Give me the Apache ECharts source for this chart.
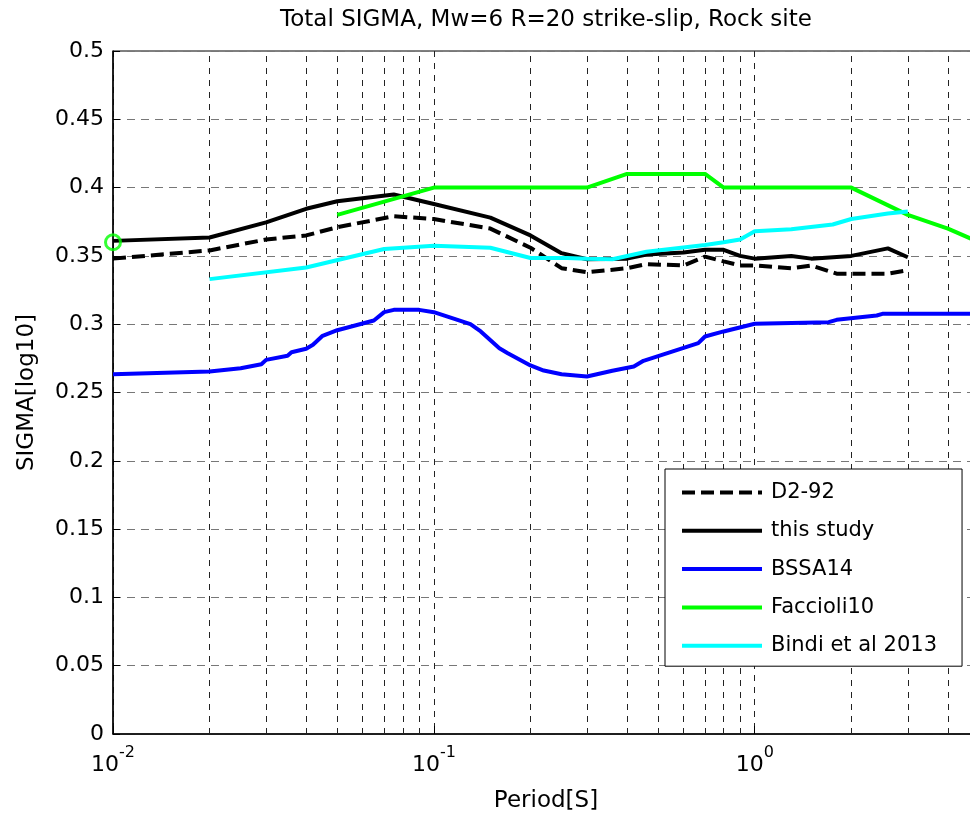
<!DOCTYPE html>
<html>
<head>
<meta charset="utf-8">
<script src="https://cdn.jsdelivr.net/npm/echarts@6/dist/echarts.min.js"></script>
<style>
  html, body { margin: 0; padding: 0; background: #fff; }
  #chart { width: 970px; height: 815px; }
</style>
</head>
<body>
<div id="chart"></div>
<script>
// Total sigma (log10 units) against spectral period (s), Mw=6, R=20 km, strike-slip, rock

const d292Periods = [0.01, 0.02, 0.03, 0.04, 0.05, 0.075, 0.1, 0.15, 0.2, 0.25, 0.3, 0.4, 0.46, 0.6, 0.7, 0.8, 0.9, 1.0, 1.3, 1.5, 1.8, 2.0, 2.6, 3.0];
const d292Sigma   = [0.348, 0.354, 0.362, 0.365, 0.371, 0.379, 0.377, 0.370, 0.356, 0.341, 0.338, 0.341, 0.344, 0.343, 0.3495, 0.346, 0.343, 0.343, 0.341, 0.343, 0.337, 0.337, 0.337, 0.3395];

const studyPeriods = [0.01, 0.02, 0.03, 0.04, 0.05, 0.075, 0.1, 0.15, 0.2, 0.25, 0.3, 0.4, 0.46, 0.6, 0.7, 0.8, 0.9, 1.0, 1.3, 1.5, 2.0, 2.6, 3.0];
const studySigma   = [0.361, 0.3635, 0.3745, 0.3845, 0.390, 0.395, 0.388, 0.378, 0.365, 0.352, 0.3475, 0.348, 0.351, 0.3525, 0.3545, 0.3545, 0.350, 0.348, 0.350, 0.348, 0.350, 0.3555, 0.349];

const bssaPeriods = [0.01, 0.02, 0.025, 0.029, 0.03, 0.035, 0.036, 0.04, 0.042, 0.045, 0.05, 0.065, 0.07, 0.075, 0.09, 0.1, 0.13, 0.14, 0.16, 0.17, 0.2, 0.22, 0.25, 0.3, 0.36, 0.42, 0.45, 0.667, 0.7, 0.8, 1.0, 1.7, 1.8, 2.4, 2.5, 3.0, 4.0, 5.0];
const bssaSigma   = [0.2634, 0.2654, 0.2678, 0.2707, 0.2739, 0.2769, 0.2795, 0.282, 0.2849, 0.2915, 0.2956, 0.3027, 0.3088, 0.3105, 0.3105, 0.3088, 0.300, 0.2947, 0.2824, 0.2788, 0.2698, 0.2661, 0.2634, 0.2617, 0.2659, 0.269, 0.2732, 0.2861, 0.291, 0.2947, 0.3003, 0.3015, 0.3032, 0.3064, 0.3076, 0.3076, 0.3076, 0.3076];

const faccioliPeriods = [0.05, 0.1, 0.3, 0.4, 0.7, 0.8, 2.0, 3.0, 4.0, 5.0];
const faccioliSigma   = [0.38, 0.40, 0.40, 0.41, 0.41, 0.40, 0.40, 0.38, 0.37, 0.36];
const faccioliPgaPeriod = 0.01;
const faccioliPgaSigma  = 0.36;

const bindiPeriods = [0.02, 0.04, 0.07, 0.1, 0.15, 0.2, 0.26, 0.3, 0.36, 0.46, 0.7, 0.8, 0.9, 1.0, 1.3, 1.75, 2.0, 2.6, 3.0];
const bindiSigma   = [0.333, 0.3415, 0.355, 0.3575, 0.356, 0.3485, 0.3485, 0.348, 0.3475, 0.353, 0.358, 0.360, 0.362, 0.368, 0.3695, 0.373, 0.377, 0.381, 0.3825];

// Intermediate grid periods on the log axis (2..9 per decade)
const minorPeriods = [0.02, 0.03, 0.04, 0.05, 0.06, 0.07, 0.08, 0.09,
                      0.2, 0.3, 0.4, 0.5, 0.6, 0.7, 0.8, 0.9,
                      2, 3, 4];

const seriesNames = ['D2-92', 'this study', 'BSSA14', 'Faccioli10', 'Bindi et al 2013'];

const FONT = 'DejaVu Sans';
const LINE_W = 4;
const zip = (xs, ys) => xs.map((x, i) => [x, ys[i]]);

function lineSeries(name, periods, sigma, color, dashed) {
  return {
    name: name,
    type: 'line',
    data: zip(periods, sigma),
    symbol: 'none',
    showSymbol: false,
    smooth: false,
    z: 3,
    lineStyle: { color: color, width: LINE_W, type: dashed ? [13, 6] : 'solid' },
    itemStyle: { color: color },
    emphasis: { disabled: true }
  };
}

const chart = echarts.init(document.getElementById('chart'), null, { renderer: 'canvas' });

chart.setOption({
  animation: false,
  backgroundColor: '#fff',
  title: {
    text: 'Total SIGMA, Mw=6 R=20 strike-slip, Rock site',
    left: 546,
    top: 9,
    padding: 0,
    textAlign: 'center',
    textVerticalAlign: 'top',
    textStyle: { fontFamily: FONT, fontSize: 23, fontWeight: 'normal', color: '#000' }
  },
  grid: {
    left: 113, top: 51, right: -9, bottom: 81,
    containLabel: false,
    outerBoundsMode: 'none',
    show: true,
    borderColor: '#000',
    borderWidth: 1,
    backgroundColor: 'transparent'
  },
  legend: {
    data: seriesNames,
    orient: 'vertical',
    left: 665,
    top: 469,
    padding: [13, 25, 10, 15],
    itemWidth: 80,
    itemHeight: 20,
    itemGap: 17.3,
    backgroundColor: '#fff',
    borderColor: '#000',
    borderWidth: 1,
    borderRadius: 0,
    selectedMode: false,
    itemStyle: { opacity: 0 },
    lineStyle: { width: LINE_W },
    textStyle: { fontFamily: FONT, fontSize: 21, color: '#000', lineHeight: 20, padding: [0, 0, 0, 4] }
  },
  xAxis: {
    type: 'log',
    logBase: 10,
    min: 0.01,
    max: 5,
    name: 'Period[S]',
    nameLocation: 'middle',
    nameGap: 56,
    nameTextStyle: { fontFamily: FONT, fontSize: 23, color: '#000' },
    axisLine: { show: true, lineStyle: { color: '#000', width: 1.5 } },
    axisTick: { show: true, inside: true, length: 8, lineStyle: { color: '#000', width: 1 } },
    splitLine: { show: true, lineStyle: { color: '#222', width: 1, type: [6, 6] } },
    axisLabel: {
      margin: 11,
      color: '#000',
      formatter: function (v) {
        const e = Math.log10(v);
        const r = Math.round(e);
        if (Math.abs(e - r) > 1e-6) return '';
        return '{b|10}{s|' + r + '}';
      },
      rich: {
        b: { fontFamily: FONT, fontSize: 22, color: '#000', lineHeight: 40 },
        s: { fontFamily: FONT, fontSize: 16, color: '#000', lineHeight: 16, verticalAlign: 'top' }
      }
    }
  },
  yAxis: {
    type: 'value',
    min: 0,
    max: 0.5,
    interval: 0.05,
    name: 'SIGMA[log10]',
    nameLocation: 'middle',
    nameGap: 74,
    nameTextStyle: { fontFamily: FONT, fontSize: 23, color: '#000' },
    axisLine: { show: true, lineStyle: { color: '#000', width: 1.5 } },
    axisTick: { show: true, inside: true, length: 7, lineStyle: { color: '#000', width: 1 } },
    splitLine: { show: true, lineStyle: { color: '#777', width: 1, type: [8, 6] } },
    axisLabel: {
      margin: 9,
      fontFamily: FONT,
      fontSize: 22,
      color: '#000',
      formatter: function (v) { return String(Math.round(v * 100) / 100); }
    }
  },
  series: [
    {
      name: 'minor-grid',
      type: 'line',
      data: [],
      silent: true,
      markLine: {
        silent: true,
        z: 1,
        symbol: ['none', 'none'],
        label: { show: false },
        emphasis: { disabled: true },
        lineStyle: { color: '#222', width: 1, type: [6, 6] },
        data: minorPeriods.map(p => ({ xAxis: p }))
      }
    },
    lineSeries('D2-92', d292Periods, d292Sigma, '#000000', true),
    lineSeries('this study', studyPeriods, studySigma, '#000000', false),
    lineSeries('BSSA14', bssaPeriods, bssaSigma, '#0000ff', false),
    lineSeries('Faccioli10', faccioliPeriods, faccioliSigma, '#00ff00', false),
    lineSeries('Bindi et al 2013', bindiPeriods, bindiSigma, '#00ffff', false),
    {
      name: 'Faccioli10 PGA',
      type: 'scatter',
      data: [[faccioliPgaPeriod, faccioliPgaSigma]],
      symbol: 'circle',
      symbolSize: 15,
      clip: false,
      z: 4,
      itemStyle: { color: 'rgba(0,0,0,0)', borderColor: '#00ff00', borderWidth: 3 },
      emphasis: { disabled: true }
    }
  ]
});
</script>
</body>
</html>
